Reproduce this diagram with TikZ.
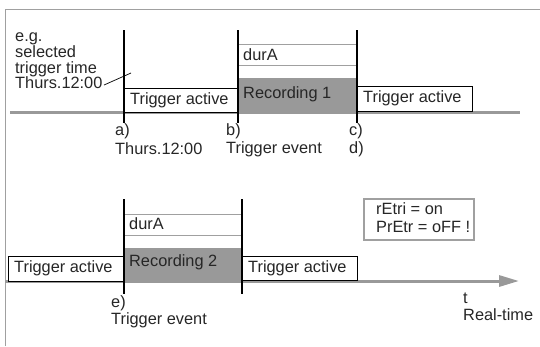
\documentclass[tikz,border=0pt]{standalone}
\usepackage{fontspec}
\setmainfont{Liberation Sans}
\usetikzlibrary{arrows.meta}
\definecolor{lgray}{HTML}{A0A0A0}
\definecolor{fillgray}{HTML}{999999}
\tikzset{
  txt/.style={font=\fontsize{16.4}{16.4}\selectfont, inner sep=0pt, anchor=west, text=black!85},
  timeline/.style={draw=fillgray, line width=3bp},
  marker/.style={draw=black, line width=1.4bp},
  activebox/.style={draw=black, line width=0.9bp, fill=white},
  durline/.style={draw=lgray, line width=0.9bp},
  recbox/.style={fill=fillgray},
}
\begin{document}
\begin{tikzpicture}[x=1bp,y=-1bp]
\useasboundingbox (0,0) rectangle (540,346);
% frame
\draw[lgray, line width=1bp] (5,346) -- (5,9) -- (540,9);

% ===== upper timeline =====
\coordinate (u0) at (10,112);
\coordinate (u1) at (520,112);
\draw[timeline] (u0) -- (u1);

% durA box 1
\draw[durline] (238,44) -- (356,44);
\draw[durline] (238,65) -- (356,65);
\node[txt] (durA1) at (243,55) {durA};
% Recording 1
\fill[recbox] (238,78) rectangle (356,113);
\node[txt] (rec1) at (243,94) {Recording 1};
% Trigger active boxes
\draw[activebox] (124,88) rectangle (238,112);
\node[txt] (ta1) at (130,100) {Trigger active};
\draw[activebox] (357,86) rectangle (472,111);
\node[txt] (ta2) at (363,98) {Trigger active};

% markers
\coordinate (a0) at (124,30); \coordinate (a1) at (124,123);
\coordinate (b0) at (238,30); \coordinate (b1) at (238,123);
\coordinate (c0) at (357,30); \coordinate (c1) at (357,123);
\draw[marker] (a0) -- (a1);
\draw[marker] (b0) -- (b1);
\draw[marker] (c0) -- (c1);

% labels
\node[txt] (la) at (115,131) {a)};
\node[txt] (la2) at (115,149) {Thurs.12:00};
\node[txt] (lb) at (226,131) {b)};
\node[txt] (lb2) at (226,149) {Trigger event};
\node[txt] (lc) at (349,131) {c)};
\node[txt] (ld) at (349,149) {d)};

% annotation
\node[txt, font=\fontsize{16.4}{15.7}\selectfont, align=left, anchor=north west] (eg) at (15,33)
  {e.g.\\selected\\trigger time\\Thurs.12:00};
\coordinate (annstart) at (104,85);
\coordinate (ann) at (131,73);
\draw[black, line width=0.7bp] (annstart) -- (ann);

% ===== lower timeline =====
\coordinate (l0) at (5,281);
\coordinate (l1) at (519,281);
\draw[timeline, -{Triangle[length=20bp,width=11bp]}] (l0) -- (l1);

\draw[durline] (124,214) -- (242,214);
\draw[durline] (124,235) -- (242,235);
\node[txt] (durA2) at (129,224) {durA};
\fill[recbox] (124,248) rectangle (242,282);
\node[txt] (rec2) at (129,262) {Recording 2};
\draw[activebox] (8,256) rectangle (124,281);
\node[txt] (ta3) at (14,268) {Trigger active};
\draw[activebox] (242,256) rectangle (357,280);
\node[txt] (ta4) at (248,268) {Trigger active};

\coordinate (e0) at (124,199); \coordinate (e1) at (124,294);
\coordinate (f0) at (242,199); \coordinate (f1) at (242,294);
\draw[marker] (e0) -- (e1);
\draw[marker] (f0) -- (f1);

\node[txt] (le) at (111,303) {e)};
\node[txt] (le2) at (111,320) {Trigger event};

\node[txt] (lt) at (463,298) {t};
\node[txt] (lt2) at (463,315) {Real-time};

\draw[lgray, line width=1.2bp] (364,199) rectangle (474,240);
\node[txt] (set1) at (376,209) {rEtri = on};
\node[txt] (set2) at (376,227) {PrEtr = oFF !};
\end{tikzpicture}
\end{document}
